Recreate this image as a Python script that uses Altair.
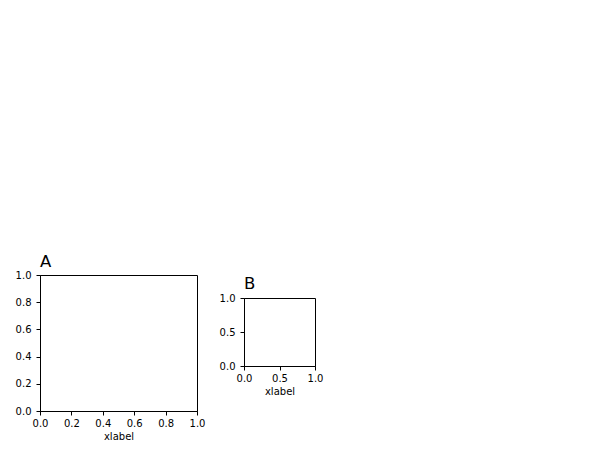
import altair as alt
import pandas as pd

# Data: two empty panels, only axis ranges and tick values
a_ticks = [0.0, 0.2, 0.4, 0.6, 0.8, 1.0]
b_ticks = [0.0, 0.5, 1.0]
corner_x = [0.0, 1.0]
corner_y = [0.0, 1.0]
panel_titles = ["A", "B"]
x_title = "xlabel"

FONT = "DejaVu Sans"
df = pd.DataFrame({"x": corner_x, "y": corner_y})


def panel(title, ticks, w, h, off):
    scale = alt.Scale(domain=[0, 1], nice=False, zero=False)
    return (
        alt.Chart(df)
        .mark_point(opacity=0, size=0)
        .encode(
            x=alt.X("x:Q", scale=scale,
                    axis=alt.Axis(values=ticks, format=".1f", title=x_title)),
            y=alt.Y("y:Q", scale=scale,
                    axis=alt.Axis(values=ticks, format=".1f", title=None)),
        )
        .properties(
            width=w,
            height=h,
            title=alt.TitleParams(
                text=title, anchor="start", frame="group",
                offset=off, fontSize=16.5, font=FONT, fontWeight="normal", color="black",
            ),
        )
    )


a = panel(panel_titles[0], a_ticks, 157, 136, 0)
b = panel(panel_titles[1], b_ticks, 71, 68, 1)

spacer = (
    alt.Chart(df)
    .mark_point(opacity=0, size=0)
    .encode(x=alt.X("x:Q", axis=None), y=alt.Y("y:Q", axis=None))
    .properties(width=71, height=23, view=alt.ViewBackground(strokeOpacity=0))
)

right = alt.VConcatChart(vconcat=[spacer, b], spacing=0, bounds="flush")
chart = (
    alt.HConcatChart(hconcat=[a, right], spacing=47, bounds="flush")
    .properties(padding={"left": 6, "top": 245, "right": 0, "bottom": 0})
    .configure_axis(
        labelFont=FONT, labelFontSize=10, labelColor="black",
        titleFont=FONT, titleFontSize=10, titleColor="black", titleFontWeight="normal",
        titlePadding=3, labelPadding=3, tickSize=4, tickColor="black", tickWidth=1,
        domainColor="black", domainWidth=1, grid=False, labelFlush=False, labelOverlap=False,
    )
    .configure_axisY(labelPadding=5)
    .configure_view(stroke="black", strokeWidth=1)
)

chart.save("out.html", embed_options={"renderer": "svg", "actions": False})
